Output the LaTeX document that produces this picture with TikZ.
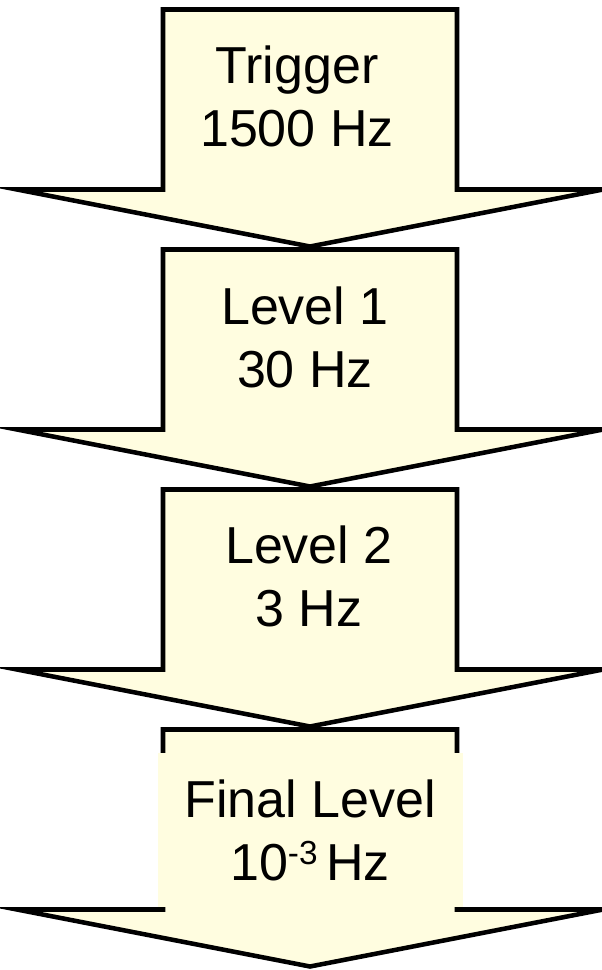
\documentclass[tikz,border=0pt]{standalone}
\usepackage{fontspec}
\setmainfont{Liberation Sans}
\definecolor{paleyellow}{HTML}{FFFDE0}
\begin{document}
\begin{tikzpicture}[x=0.75pt,y=-0.75pt,
  blockarrow/.style={draw=black,fill=paleyellow,line width=3.4pt,line join=miter,miter limit=20},
  lbl/.style={inner sep=0pt,align=center,font=\fontsize{39}{47.25}\selectfont},
  lblbox/.style={lbl,fill=paleyellow,minimum width=228.75pt,minimum height=115.5pt}]
\useasboundingbox (0,0) rectangle (601,970);
\foreach \t/\n in {9.5/a1,249.5/a2,489.5/a3,729.5/a4}{
  \draw[blockarrow] (163,\t) -- (457,\t) -- (457,\t+180) -- (603,\t+180)
     -- (310,\t+237) -- (17,\t+180) -- (163,\t+180) -- cycle;
}
\node[lbl] (trigger) at (297,96) {Trigger\\1500 Hz};
\node[lbl] (level1) at (305,337) {Level 1\\30 Hz};
\node[lbl] (level2) at (309,576.5) {Level 2\\3 Hz};
\node[lblbox] (final) at (310,830) {Final Level\\10{\fontsize{25}{25}\selectfont\raisebox{12pt}{-3}}\,Hz};
\end{tikzpicture}
\end{document}
